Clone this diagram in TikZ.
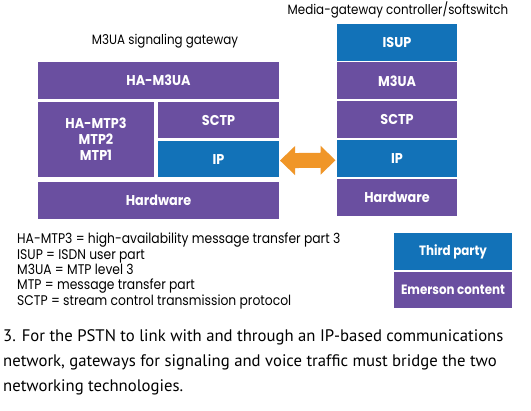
\documentclass[tikz,border=0pt]{standalone}
\usepackage{fontspec}
\usetikzlibrary{calc}
\setmainfont{PT Sans}
\newfontfamily\fut[FakeStretch=0.88]{Poppins}
\newfontfamily\futb[FakeStretch=0.9]{Poppins}
\newfontfamily\captfont{PT Sans}
\definecolor{epurple}{RGB}{106,79,160}
\definecolor{eblue}{RGB}{18,114,184}
\definecolor{eorange}{RGB}{240,150,40}
\tikzset{
  lay/.style={draw=none, inner sep=0pt, outer sep=0pt, text=white, anchor=north west, align=center,
    font=\futb\bfseries\fontsize{14.2}{16}\selectfont},
  purp/.style={lay, fill=epurple},
  blu/.style={lay, fill=eblue},
  ttl/.style={inner sep=0pt, anchor=base, font=\fut\fontsize{13.5}{15}\selectfont},
  leg/.style={inner sep=0pt, anchor=base west, font=\fut\fontsize{14}{15}\selectfont},
  capt/.style={inner sep=0pt, anchor=base west, font=\captfont\fontsize{16.7}{20}\selectfont},
  keybox/.style={lay, font=\fut\bfseries\fontsize{13.5}{15}\selectfont}
}
\begin{document}
\begin{tikzpicture}[x=1pt,y=-1pt]
\useasboundingbox (0,0) rectangle (531,411);
\fill[white] (0,0) rectangle (531,411);
% titles
\node[ttl] (t1) at (165,45) {M3UA signaling gateway};
\node[ttl] (t2) at (398,15) {Media-gateway controller/softswitch};
% left stack
\node[purp, minimum width=241, minimum height=37.5] (lm3ua) at (38,62) {HA-M3UA};
\node[purp, minimum width=116, minimum height=75.5] (lmtp) at (38,101.8) {HA-MTP3\\MTP2\\MTP1};
\node[purp, minimum width=121, minimum height=36.5] (lsctp) at (158,101.8) {SCTP};
\node[blu, minimum width=121, minimum height=36.5] (lip) at (158,140.8) {IP};
\node[purp, minimum width=241, minimum height=37.5] (lhw) at (38,181.8) {Hardware};
% right stack
\node[blu, minimum width=120, minimum height=37] (risup) at (337,24) {ISUP};
\node[purp, minimum width=120, minimum height=37] (rm3ua) at (337,62.5) {M3UA};
\node[purp, minimum width=120, minimum height=37] (rsctp) at (337,101) {SCTP};
\node[blu, minimum width=120, minimum height=37.5] (rip) at (337,140) {IP};
\node[purp, minimum width=120, minimum height=37] (rhw) at (337,179.2) {Hardware};
% double arrow
\coordinate (aL) at ([xshift=1pt,yshift=-1.5pt]lip.east);
\coordinate (aR) at ([xshift=-1.5pt,yshift=-1.5pt]rip.west);
\fill[eorange] (aL) -- ++(15,-14.5) -- ++(0,7) -- ($(aR)+(-15,-7.5)$) -- ++(0,-7) -- (aR)
  -- ++(-15,14.5) -- ++(0,-7) -- ($(aL)+(15,7.5)$) -- ++(0,7) -- cycle;
% legend text
\node[leg] (g1) at (17,244) {HA-MTP3 = high-availability message transfer part 3};
\node[leg] (g2) at (17,259.3) {ISUP = ISDN user part};
\node[leg] (g3) at (17,274.6) {M3UA = MTP level 3};
\node[leg] (g4) at (17,289.9) {MTP = message transfer part};
\node[leg] (g5) at (17,305.2) {SCTP = stream control transmission protocol};
% key boxes
\node[keybox, fill=eblue, minimum width=118, minimum height=37] (k1) at (394,233) {Third party};
\node[keybox, fill=epurple, minimum width=118, minimum height=36] (k2) at (394,272) {Emerson content};
% caption
\node[capt] (c1) at (3,342) {3. For the PSTN to link with and through an IP-based communications};
\node[capt] (c2) at (3,366.5) {network, gateways for signaling and voice traffic must bridge the two};
\node[capt] (c3) at (3,391.5) {networking technologies.};
\end{tikzpicture}
\end{document}
